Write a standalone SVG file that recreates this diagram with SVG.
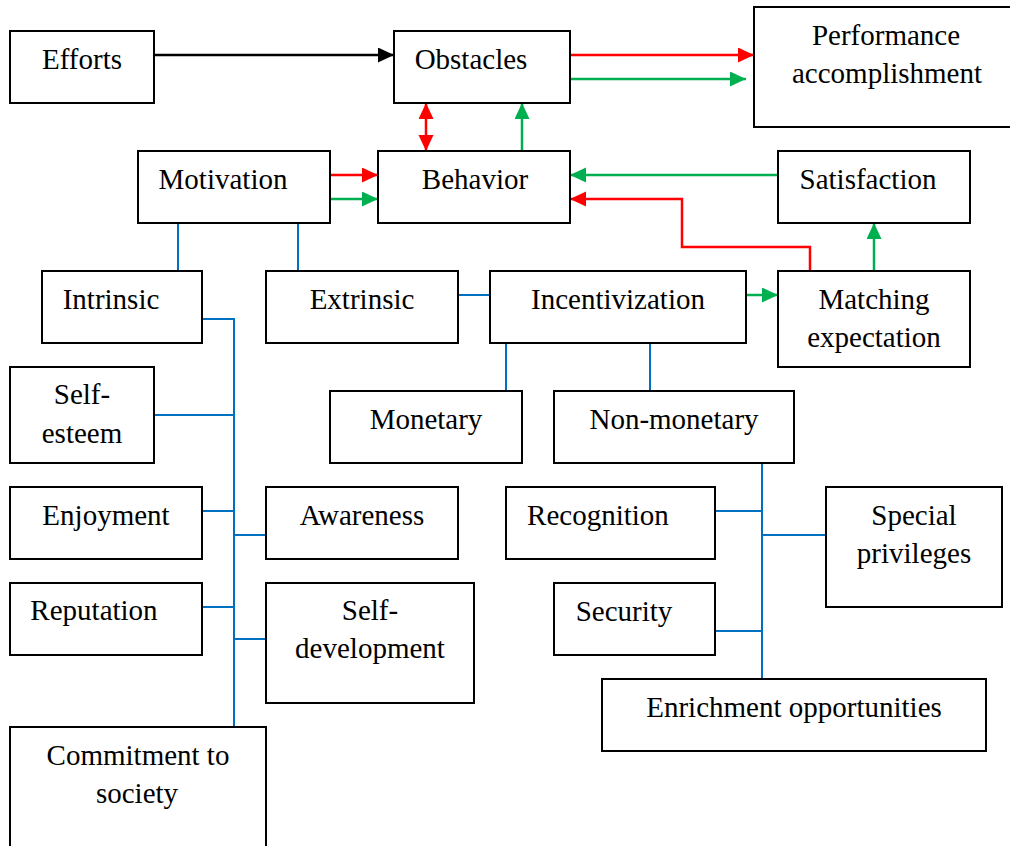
<svg xmlns="http://www.w3.org/2000/svg" width="1010" height="846" viewBox="0 0 1010 846">
  <style>
    .box { fill: #ffffff; stroke: #000000; stroke-width: 2; }
    .lbl { font-family: "Liberation Serif", "Times New Roman", serif; font-size: 29px; fill: #000000; text-anchor: middle; }
    .tree { fill: none; stroke: #0070C0; stroke-width: 2; }
    .blk { fill: none; stroke: #000000; stroke-width: 2.5; }
    .red { fill: none; stroke: #FF0000; stroke-width: 2.5; }
    .grn { fill: none; stroke: #00B050; stroke-width: 2.5; }
  </style>
  <defs>
    <marker id="ahBlack" markerUnits="userSpaceOnUse" markerWidth="17" markerHeight="16" refX="16" refY="7.5" orient="auto-start-reverse">
      <path d="M0,0 L16,7.5 L0,15 Z" fill="#000000"/>
    </marker>
    <marker id="ahRed" markerUnits="userSpaceOnUse" markerWidth="17" markerHeight="16" refX="16" refY="7.5" orient="auto-start-reverse">
      <path d="M0,0 L16,7.5 L0,15 Z" fill="#FF0000"/>
    </marker>
    <marker id="ahGreen" markerUnits="userSpaceOnUse" markerWidth="17" markerHeight="16" refX="16" refY="7.5" orient="auto-start-reverse">
      <path d="M0,0 L16,7.5 L0,15 Z" fill="#00B050"/>
    </marker>
  </defs>
  <rect width="1010" height="846" fill="#ffffff"/>

  <!-- connectors -->
  <g id="connectors">
    <!-- hierarchy lines -->
    <path class="tree" d="M178,223 V271"/>
    <path class="tree" d="M298,223 V271"/>
    <path class="tree" d="M458,295 H490"/>
    <path class="tree" d="M506,343 V391"/>
    <path class="tree" d="M650,343 V391"/>
    <path class="tree" d="M202,319 H234 V727"/>
    <path class="tree" d="M154,415 H234"/>
    <path class="tree" d="M202,511 H234"/>
    <path class="tree" d="M234,535 H266"/>
    <path class="tree" d="M202,607 H234"/>
    <path class="tree" d="M234,639 H266"/>
    <path class="tree" d="M762,463 V679"/>
    <path class="tree" d="M715,511 H762"/>
    <path class="tree" d="M762,535 H826"/>
    <path class="tree" d="M715,631 H762"/>

    <!-- flow arrows -->
    <path class="blk" d="M155,55 H394" marker-end="url(#ahBlack)"/>
    <path class="red" d="M570,55 H754" marker-end="url(#ahRed)"/>
    <path class="grn" d="M570,79 H746" marker-end="url(#ahGreen)"/>
    <path class="red" d="M426,103 V151" marker-start="url(#ahRed)" marker-end="url(#ahRed)"/>
    <path class="grn" d="M522,151 V103" marker-end="url(#ahGreen)"/>
    <path class="red" d="M330,175 H378" marker-end="url(#ahRed)"/>
    <path class="grn" d="M330,199 H378" marker-end="url(#ahGreen)"/>
    <path class="grn" d="M778,175 H570" marker-end="url(#ahGreen)"/>
    <path class="red" d="M810,271 V247 H682 V199 H570" marker-end="url(#ahRed)"/>
    <path class="grn" d="M874,271 V223" marker-end="url(#ahGreen)"/>
    <path class="grn" d="M746,295 H778" marker-end="url(#ahGreen)"/>
  </g>

  <!-- nodes -->
  <g id="efforts">
    <rect class="box" x="10" y="31" width="144" height="72"/>
    <text class="lbl" x="82" y="69">Efforts</text>
  </g>
  <g id="obstacles">
    <rect class="box" x="394" y="31" width="176" height="72"/>
    <text class="lbl" x="471" y="69">Obstacles</text>
  </g>
  <g id="performance">
    <rect class="box" x="754" y="7" width="262" height="120"/>
    <text class="lbl" x="886" y="45">Performance</text>
    <text class="lbl" x="887" y="83">accomplishment</text>
  </g>
  <g id="motivation">
    <rect class="box" x="138" y="151" width="192" height="72"/>
    <text class="lbl" x="223" y="189">Motivation</text>
  </g>
  <g id="behavior">
    <rect class="box" x="378" y="151" width="192" height="72"/>
    <text class="lbl" x="475" y="189">Behavior</text>
  </g>
  <g id="satisfaction">
    <rect class="box" x="778" y="151" width="192" height="72"/>
    <text class="lbl" x="868" y="189">Satisfaction</text>
  </g>
  <g id="intrinsic">
    <rect class="box" x="42" y="271" width="160" height="72"/>
    <text class="lbl" x="111" y="309">Intrinsic</text>
  </g>
  <g id="extrinsic">
    <rect class="box" x="266" y="271" width="192" height="72"/>
    <text class="lbl" x="362" y="309">Extrinsic</text>
  </g>
  <g id="incentivization">
    <rect class="box" x="490" y="271" width="256" height="72"/>
    <text class="lbl" x="618" y="309">Incentivization</text>
  </g>
  <g id="matching">
    <rect class="box" x="778" y="271" width="192" height="96"/>
    <text class="lbl" x="874" y="309">Matching</text>
    <text class="lbl" x="874" y="347">expectation</text>
  </g>
  <g id="self-esteem">
    <rect class="box" x="10" y="367" width="144" height="96"/>
    <text class="lbl" x="82" y="404">Self-</text>
    <text class="lbl" x="82" y="443">esteem</text>
  </g>
  <g id="monetary">
    <rect class="box" x="330" y="391" width="192" height="72"/>
    <text class="lbl" x="426" y="429">Monetary</text>
  </g>
  <g id="non-monetary">
    <rect class="box" x="554" y="391" width="240" height="72"/>
    <text class="lbl" x="674" y="429">Non-monetary</text>
  </g>
  <g id="enjoyment">
    <rect class="box" x="10" y="487" width="192" height="72"/>
    <text class="lbl" x="106" y="525">Enjoyment</text>
  </g>
  <g id="awareness">
    <rect class="box" x="266" y="487" width="192" height="72"/>
    <text class="lbl" x="362" y="525">Awareness</text>
  </g>
  <g id="recognition">
    <rect class="box" x="506" y="487" width="209" height="72"/>
    <text class="lbl" x="598" y="525">Recognition</text>
  </g>
  <g id="special-privileges">
    <rect class="box" x="826" y="487" width="176" height="120"/>
    <text class="lbl" x="914" y="525">Special</text>
    <text class="lbl" x="914" y="563">privileges</text>
  </g>
  <g id="reputation">
    <rect class="box" x="10" y="583" width="192" height="72"/>
    <text class="lbl" x="94" y="620">Reputation</text>
  </g>
  <g id="self-development">
    <rect class="box" x="266" y="583" width="208" height="120"/>
    <text class="lbl" x="370" y="620">Self-</text>
    <text class="lbl" x="370" y="658">development</text>
  </g>
  <g id="security">
    <rect class="box" x="554" y="583" width="161" height="72"/>
    <text class="lbl" x="624" y="621">Security</text>
  </g>
  <g id="enrichment">
    <rect class="box" x="602" y="679" width="384" height="72"/>
    <text class="lbl" x="794" y="717">Enrichment opportunities</text>
  </g>
  <g id="commitment">
    <rect class="box" x="10" y="727" width="256" height="130"/>
    <text class="lbl" x="138" y="765">Commitment to</text>
    <text class="lbl" x="137" y="803">society</text>
  </g>
</svg>
